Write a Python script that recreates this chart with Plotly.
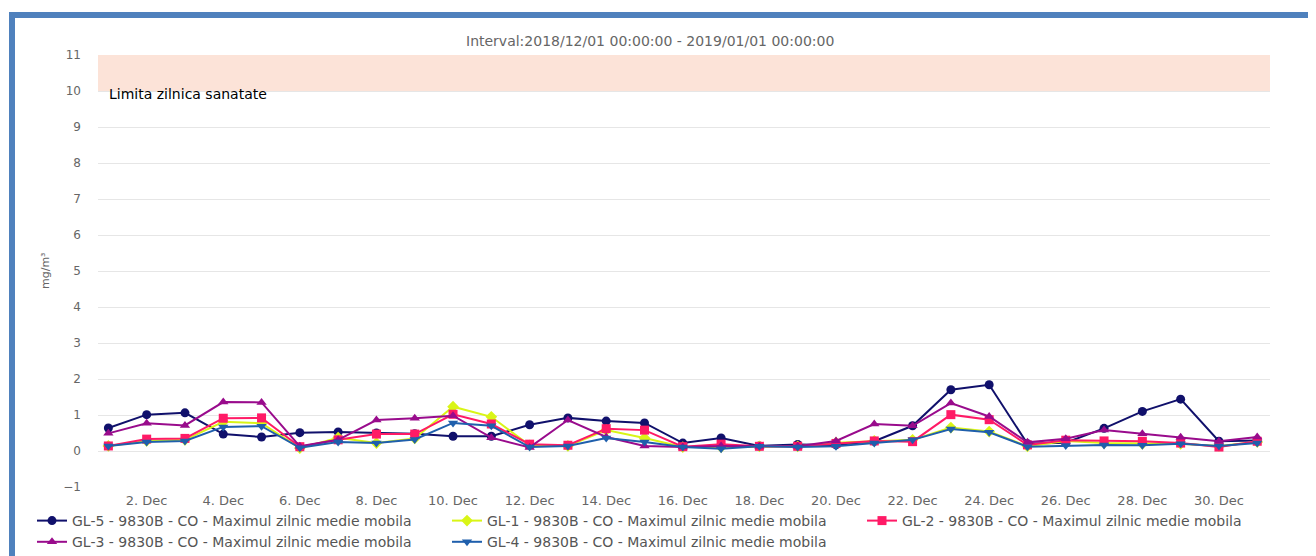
import plotly.graph_objects as go

days = [f"2018-12-{d:02d}" for d in range(1, 32)]

gl5 = [0.64, 1.01, 1.06, 0.47, 0.39, 0.51, 0.53, 0.50, 0.48, 0.41, 0.41, 0.73, 0.92, 0.83, 0.78, 0.22,
       0.36, 0.14, 0.18, 0.17, 0.27, 0.70, 1.70, 1.84, 0.20, 0.23, 0.63, 1.10, 1.44, 0.27, 0.29]
gl1 = [0.14, 0.28, 0.31, 0.81, 0.77, 0.08, 0.37, 0.22, 0.35, 1.23, 0.95, 0.16, 0.14, 0.58, 0.36, 0.11,
       0.11, 0.13, 0.13, 0.23, 0.28, 0.31, 0.65, 0.54, 0.13, 0.28, 0.22, 0.20, 0.20, 0.14, 0.25]
gl2 = [0.14, 0.33, 0.35, 0.91, 0.92, 0.12, 0.31, 0.47, 0.47, 1.02, 0.75, 0.19, 0.16, 0.62, 0.58, 0.12,
       0.19, 0.13, 0.13, 0.21, 0.28, 0.26, 1.01, 0.87, 0.17, 0.30, 0.28, 0.27, 0.22, 0.11, 0.27]
gl3 = [0.49, 0.77, 0.71, 1.36, 1.35, 0.13, 0.31, 0.86, 0.91, 0.98, 0.37, 0.10, 0.86, 0.39, 0.14, 0.11,
       0.14, 0.13, 0.13, 0.28, 0.75, 0.70, 1.33, 0.96, 0.24, 0.34, 0.58, 0.48, 0.38, 0.27, 0.39]
gl4 = [0.14, 0.25, 0.28, 0.67, 0.69, 0.09, 0.25, 0.22, 0.32, 0.78, 0.70, 0.11, 0.14, 0.36, 0.25, 0.11,
       0.06, 0.13, 0.11, 0.13, 0.22, 0.31, 0.61, 0.52, 0.12, 0.15, 0.17, 0.16, 0.20, 0.14, 0.22]

series = [
    ("GL-5 - 9830B - CO - Maximul zilnic medie mobila", gl5, "#10106b", "circle"),
    ("GL-1 - 9830B - CO - Maximul zilnic medie mobila", gl1, "#d9f516", "diamond"),
    ("GL-2 - 9830B - CO - Maximul zilnic medie mobila", gl2, "#ff1a66", "square"),
    ("GL-3 - 9830B - CO - Maximul zilnic medie mobila", gl3, "#990b8c", "triangle-up"),
    ("GL-4 - 9830B - CO - Maximul zilnic medie mobila", gl4, "#1f5fac", "triangle-down"),
]

title_text = "Interval:2018/12/01 00:00:00 - 2019/01/01 00:00:00"
band_label = "Limita zilnica sanatate"

# page body has an 8px margin; figure is sized to fit the window
OFF = 8
W, H = 1316 - OFF, 556 - OFF
L, R, T, B = 98 - OFF, 46, 55 - OFF, 69
PW, PH = W - L - R, H - T - B


def px_x(p):  # screen pixel -> paper x
    return (p - OFF - L) / PW


def px_y(p):  # screen pixel -> paper y
    return (H - B - (p - OFF)) / PH


fig = go.Figure()
for name, vals, color, sym in series:
    fig.add_trace(go.Scatter(
        x=days, y=vals, name=name, mode="lines+markers",
        line=dict(color=color, width=2),
        marker=dict(color=color, size=9, symbol=sym),
    ))

font = "DejaVu Sans, Verdana, sans-serif"

fig.update_layout(
    width=W, height=H,
    margin=dict(l=L, r=R, t=T, b=B, autoexpand=False),
    paper_bgcolor="white", plot_bgcolor="white",
    font=dict(family=font, size=13, color="#666666"),
    showlegend=True,
    legend=dict(
        orientation="h", x=px_x(32), y=px_y(505), xanchor="left", yanchor="top",
        entrywidth=370, entrywidthmode="pixels", itemwidth=30,
        font=dict(family=font, size=14, color="#555555"),
        tracegroupgap=0, bgcolor="rgba(0,0,0,0)",
    ),
    xaxis=dict(
        type="date",
        range=["2018-11-30 17:30", "2018-12-31 08:00"],
        tick0="2018-12-02", dtick=2 * 86400000, tickformat="%-d. %b",
        showgrid=False, zeroline=False, showline=False,
        ticks="", ticklabelstandoff=4,
        tickfont=dict(family=font, size=13, color="#666666"),
    ),
    yaxis=dict(
        range=[-1, 11], dtick=1, tick0=0,
        showgrid=True, gridcolor="#e6e6e6", gridwidth=1,
        zeroline=False, showline=False, ticks="",
        ticklabelstandoff=16,
        tickfont=dict(family=font, size=12, color="#666666"),
    ),
    shapes=[
        dict(type="rect", xref="paper", yref="y", x0=0, x1=1, y0=10, y1=11,
             fillcolor="#fce3d8", line=dict(width=0), layer="below"),
        dict(type="rect", xref="paper", yref="paper",
             x0=px_x(9), x1=px_x(1330), y0=px_y(12), y1=px_y(18),
             fillcolor="#4f81bd", line=dict(width=0), layer="above"),
        dict(type="rect", xref="paper", yref="paper",
             x0=px_x(9), x1=px_x(15), y0=px_y(12), y1=px_y(570),
             fillcolor="#4f81bd", line=dict(width=0), layer="above"),
    ],
    annotations=[
        dict(text=title_text, xref="paper", yref="paper", x=px_x(650), y=px_y(41),
             xanchor="center", yanchor="middle", showarrow=False,
             font=dict(family=font, size=14, color="#666666")),
        dict(text=band_label, xref="paper", yref="y", x=px_x(107), y=10,
             xanchor="left", yanchor="middle", showarrow=False, yshift=-3,
             font=dict(family=font, size=14, color="#000000")),
        dict(text="mg/m³", xref="paper", yref="paper", x=px_x(45), y=px_y(271),
             xanchor="center", yanchor="middle", showarrow=False, textangle=-90,
             font=dict(family=font, size=11, color="#666666")),
    ],
)

fig.write_html("out.html")
